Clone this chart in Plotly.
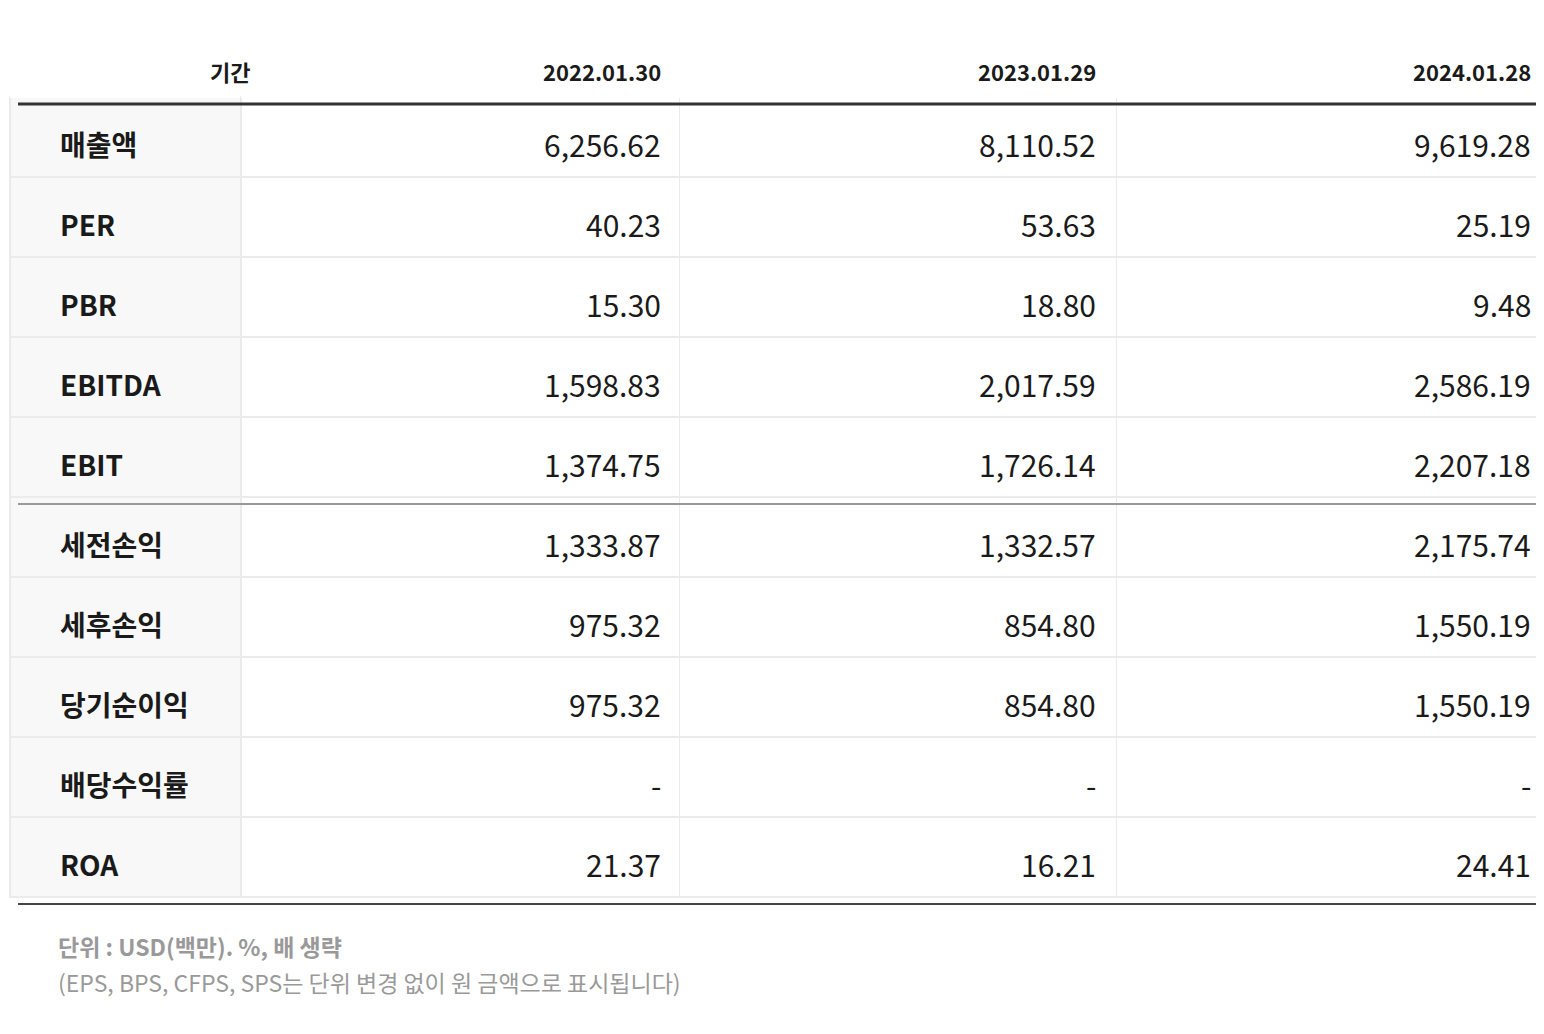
import plotly.graph_objects as go

periods = ["2022.01.30", "2023.01.29", "2024.01.28"]
items = ["매출액", "PER", "PBR", "EBITDA", "EBIT", "세전손익", "세후손익", "당기순이익", "배당수익률", "ROA"]
v2022 = ["6,256.62", "40.23", "15.30", "1,598.83", "1,374.75", "1,333.87", "975.32", "975.32", "-", "21.37"]
v2023 = ["8,110.52", "53.63", "18.80", "2,017.59", "1,726.14", "1,332.57", "854.80", "854.80", "-", "16.21"]
v2024 = ["9,619.28", "25.19", "9.48", "2,586.19", "2,207.18", "2,175.74", "1,550.19", "1,550.19", "-", "24.41"]

W, H = 1544, 1034
FONT = "Noto Sans CJK KR, Noto Sans, sans-serif"
HEAD_TOP, HEAD_H, ROW_H = 30, 66, 80
COL_RIGHT = [655, 1090, 1525]


def py(px):
    return 1 - px / H


n = len(items)
# grid and fills
fig = go.Figure(go.Table(
    domain=dict(x=[2 / W, 1], y=[0, py(HEAD_TOP - 7)]),
    columnwidth=[230, 436, 435, 433],
    header=dict(values=["", "", "", ""], height=HEAD_H, fill_color="white",
                line=dict(color="white", width=1)),
    cells=dict(values=[[""] * n] * 4, height=ROW_H,
               fill_color=[["#f8f8f8"] * n] + [["white"] * n] * 3,
               line=dict(color="#ebebeb", width=1.5)),
))

for y, c, w in [(96, "#333", 3), (496, "#999", 2), (896, "#444", 2)]:
    fig.add_shape(type="line", xref="paper", yref="paper", x0=10 / W, x1=1,
                  y0=py(y), y1=py(y), line=dict(color=c, width=w))

hy = py(HEAD_TOP + HEAD_H / 2)
fig.add_annotation(x=200 / W, y=hy, text="<b>기간</b>")
for xr, p in zip(COL_RIGHT, periods):
    fig.add_annotation(x=xr / W, y=hy, text=f"<b>{p}</b>", xanchor="right")

for i, item in enumerate(items):
    ry = py(HEAD_TOP + HEAD_H + ROW_H * i + ROW_H / 2)
    fig.add_annotation(x=50 / W, y=ry, text=f"<b>{item}</b>", xanchor="left",
                       font=dict(size=28))
    for xr, vals in zip(COL_RIGHT, [v2022, v2023, v2024]):
        fig.add_annotation(x=xr / W, y=ry, text=vals[i], xanchor="right",
                           font=dict(size=30))

fig.update_annotations(xref="paper", yref="paper", showarrow=False, yanchor="middle",
                       selector=lambda a: True)
fig.for_each_annotation(lambda a: a.update(font=dict(family=FONT, color="#1a1a1a",
                                                     size=a.font.size or 22)))

fig.add_annotation(x=48 / W, y=py(957), xref="paper", yref="paper", xanchor="left",
                   showarrow=False, text="<b>단위 : USD(백만). %, 배 생략</b>",
                   font=dict(family=FONT, size=23, color="#999"))
fig.add_annotation(x=48 / W, y=py(993), xref="paper", yref="paper", xanchor="left",
                   showarrow=False, text="(EPS, BPS, CFPS, SPS는 단위 변경 없이 원 금액으로 표시됩니다)",
                   font=dict(family=FONT, size=23, color="#999"))

fig.update_layout(width=W, height=H, margin=dict(l=0, r=0, t=0, b=0),
                  paper_bgcolor="white", plot_bgcolor="white")
fig.write_html("out.html")
